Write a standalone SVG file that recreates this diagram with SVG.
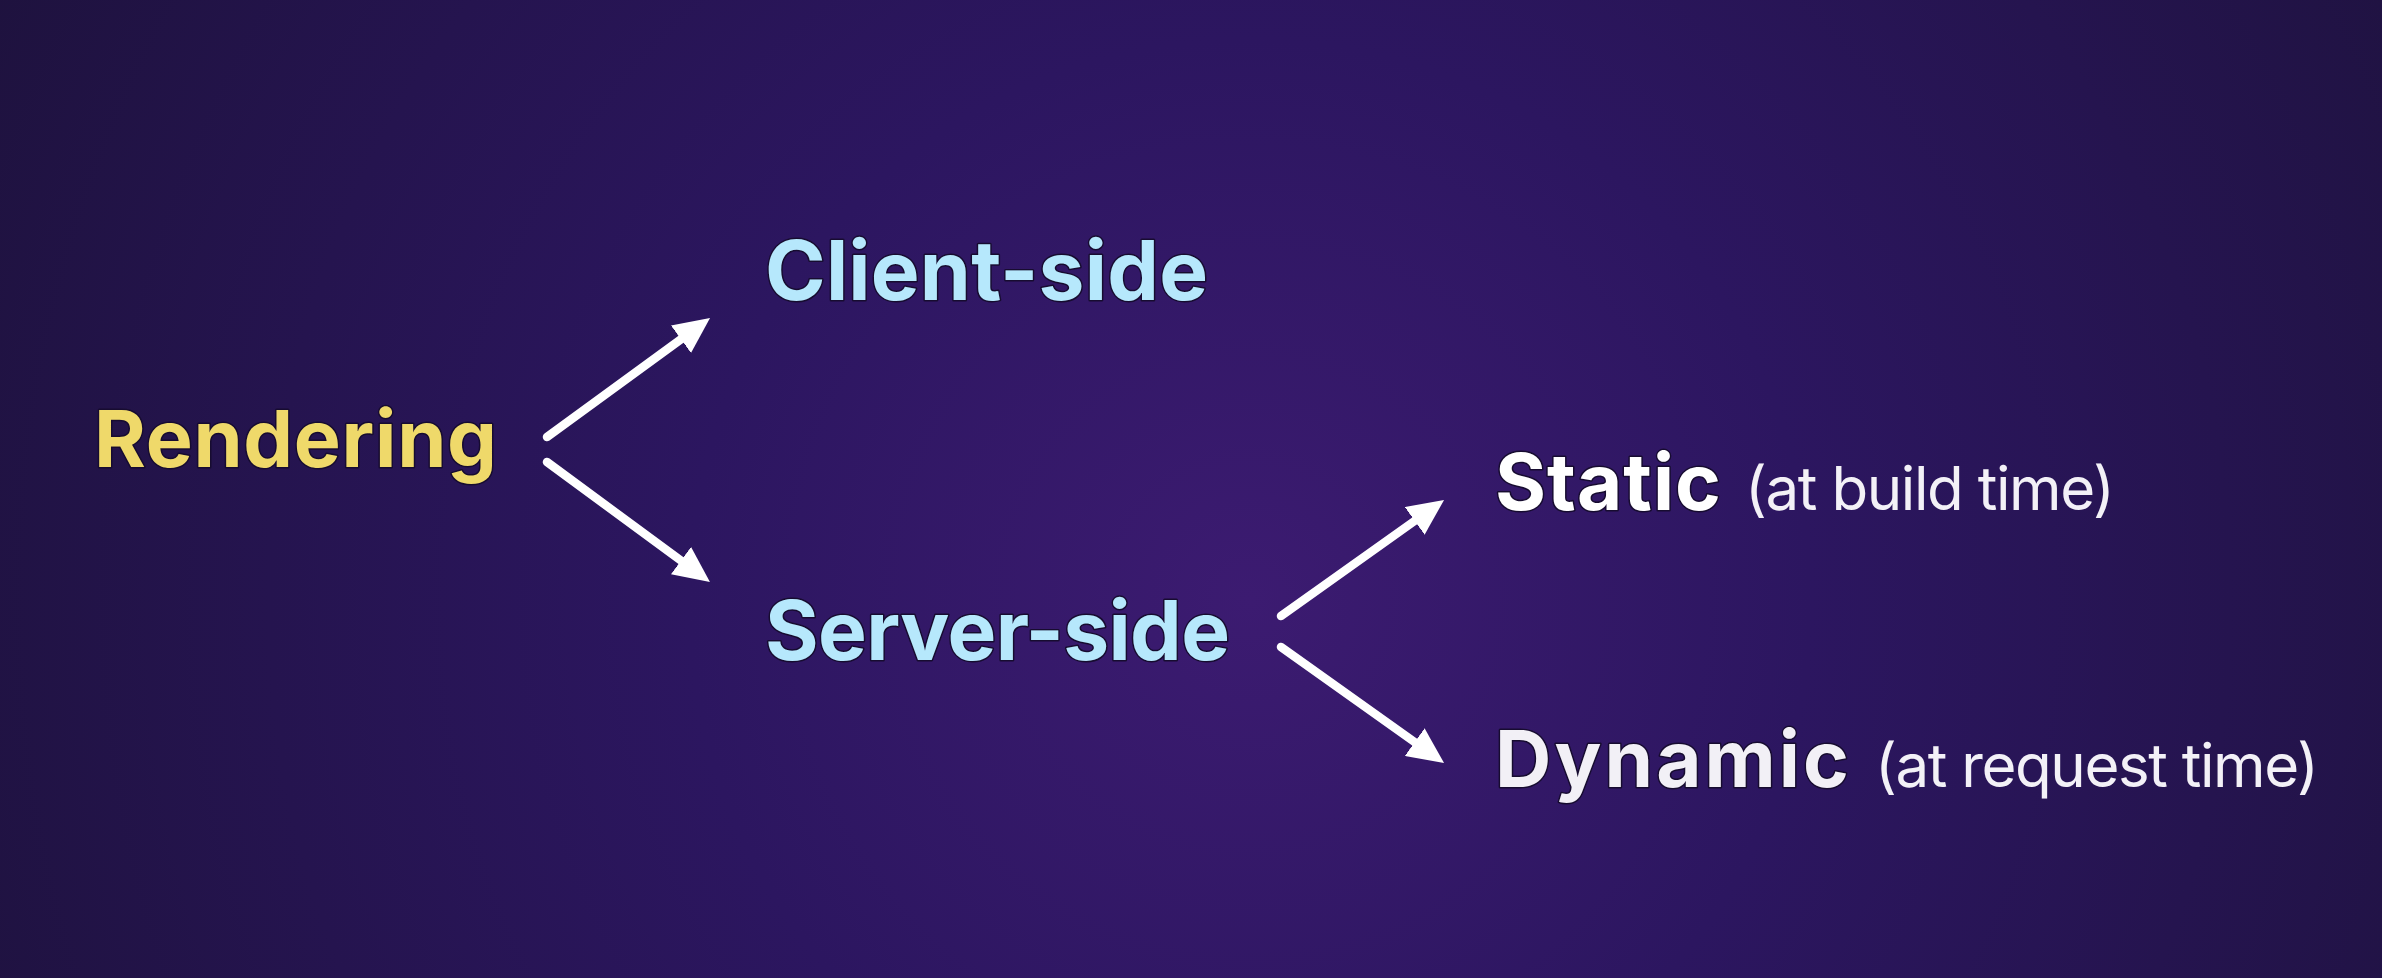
<svg xmlns="http://www.w3.org/2000/svg" width="2382" height="978" viewBox="0 0 2382 978">
<defs>
<radialGradient id="bg" gradientUnits="userSpaceOnUse" cx="1250" cy="600" r="1400">
<stop offset="0" stop-color="#3c1b71"/>
<stop offset="0.4" stop-color="#2c1660"/>
<stop offset="1" stop-color="#1e123e"/>
</radialGradient>
<marker id="head" markerUnits="userSpaceOnUse" viewBox="0 0 36 34" refX="6" refY="17" markerWidth="36" markerHeight="34" orient="auto">
<path d="M0,0 L36,17 L0,34 z" fill="#ffffff"/>
</marker>
<style>
.lbl{font-family:"Inter","Liberation Sans",sans-serif;font-weight:700;paint-order:stroke;stroke:#170c30;stroke-width:3;stroke-linejoin:round}
.sub{font-family:"Inter","Liberation Sans",sans-serif;font-weight:400;fill:#f3f1f7}
.arrow{stroke:#ffffff;stroke-width:8.5;stroke-linecap:round;fill:none}
</style>
</defs>
<rect x="0" y="0" width="2382" height="978" fill="url(#bg)"/>
<g id="connectors">
<line class="arrow" x1="547" y1="437" x2="685.8" y2="335.7" marker-end="url(#head)"/>
<line class="arrow" x1="547" y1="462" x2="685.8" y2="564.2" marker-end="url(#head)"/>
<line class="arrow" x1="1281" y1="616" x2="1419.6" y2="517.4" marker-end="url(#head)"/>
<line class="arrow" x1="1281" y1="647" x2="1419.6" y2="745.6" marker-end="url(#head)"/>
</g>
<g id="node-rendering">
<text class="lbl" x="94" y="467" font-size="79" fill="#efd96a" textLength="403">Rendering</text>
</g>
<g id="node-client">
<text class="lbl" x="765" y="300" font-size="82" fill="#b6e8fc" textLength="443">Client-side</text>
</g>
<g id="node-server">
<text class="lbl" x="765" y="660" font-size="82" fill="#b6e8fc" textLength="465">Server-side</text>
</g>
<g id="node-static">
<text class="lbl" x="1495" y="510" font-size="78" fill="#ffffff" textLength="226">Static</text>
<text class="sub" x="1745" y="510" font-size="60" textLength="370">(at build time)</text>
</g>
<g id="node-dynamic">
<text class="lbl" x="1495" y="787" font-size="78" fill="#f2f0f6" textLength="354">Dynamic</text>
<text class="sub" x="1875" y="787" font-size="60" textLength="444">(at request time)</text>
</g>
</svg>
